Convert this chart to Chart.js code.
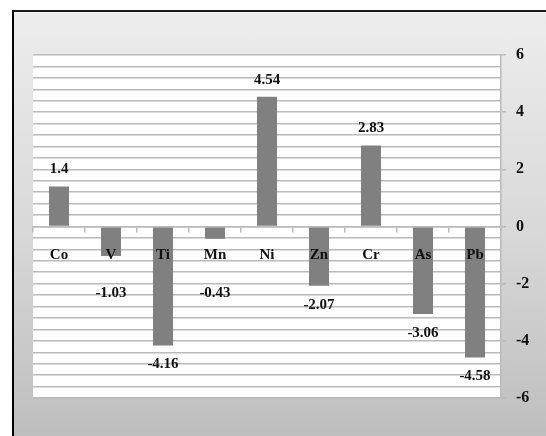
<!DOCTYPE html>
<html>
<head>
<meta charset="utf-8">
<script src="https://cdn.jsdelivr.net/npm/chart.js@4.4.1/dist/chart.umd.min.js"></script>
<style>
  html, body { margin: 0; padding: 0; background: #ffffff; }
  body { width: 546px; height: 436px; position: relative; overflow: hidden; }
  #frame {
    position: absolute; left: 12px; top: 10px;
    width: 534px; height: 424px;
    border-left: 2px solid #000; border-top: 2px solid #1a1a1a;
    background: linear-gradient(to bottom, #ededed 0%, #d9d9d9 50%, #bebebe 100%);
  }
  #chart { position: absolute; left: 0; top: 0; }
</style>
</head>
<body>
<div id="frame"></div>
<canvas id="chart" width="546" height="436"></canvas>
<script>
// Elements and their values
const categories = ['Co', 'V', 'Ti', 'Mn', 'Ni', 'Zn', 'Cr', 'As', 'Pb'];
const values = [1.4, -1.03, -4.16, -0.43, 4.54, -2.07, 2.83, -3.06, -4.58];
// Labelled values on the right-hand axis
const yTickLabels = [-6, -4, -2, 0, 2, 4, 6];

const serif = '"Liberation Serif", "DejaVu Serif", serif';
const labelFont = 'bold 15px ' + serif;
const gridGray = '#bababa';

function isMajor(v) {
  const r = Math.round(v * 10) / 10;
  return yTickLabels.includes(r);
}

// White plot area behind the grid
const plotBackground = {
  id: 'plotBackground',
  beforeDraw(chart) {
    const { ctx, chartArea: a } = chart;
    ctx.save();
    ctx.fillStyle = '#ffffff';
    ctx.fillRect(a.left, a.top, a.right - a.left, a.bottom - a.top);
    ctx.restore();
  }
};

// Value labels at the end of each bar
const valueLabels = {
  id: 'valueLabels',
  afterDraw(chart) {
    const { ctx } = chart;
    const meta = chart.getDatasetMeta(0);
    const zeroY = chart.scales.y.getPixelForValue(0);
    ctx.save();
    ctx.font = labelFont;
    ctx.fillStyle = '#111111';
    ctx.textAlign = 'center';
    ctx.textBaseline = 'middle';
    meta.data.forEach((bar, i) => {
      const v = values[i];
      let y;
      if (v >= 0) {
        y = bar.y - 17;
      } else {
        y = Math.max(bar.y + 19, zeroY + 67);
      }
      ctx.fillText(String(v), bar.x, y);
    });
    ctx.restore();
  }
};

new Chart(document.getElementById('chart'), {
  type: 'bar',
  data: {
    labels: categories,
    datasets: [{
      data: values,
      backgroundColor: '#808080',
      borderWidth: 0,
      barPercentage: 0.385,
      categoryPercentage: 1.0
    }]
  },
  options: {
    responsive: false,
    devicePixelRatio: 1,
    animation: false,
    layout: { padding: { left: 33, top: 55, right: 0, bottom: 38 } },
    plugins: {
      legend: { display: false },
      tooltip: { enabled: false }
    },
    scales: {
      x: {
        position: { y: 0 },
        offset: true,
        grid: {
          offset: true,
          drawOnChartArea: false,
          drawTicks: true,
          tickLength: 5,
          tickColor: gridGray,
          lineWidth: 1.5
        },
        border: { display: true, color: gridGray, width: 1.5, z: 1 },
        ticks: {
          z: 1,
          padding: 15,
          color: '#111111',
          font: { family: serif, size: 15, weight: 'bold' }
        }
      },
      y: {
        position: 'right',
        min: -6,
        max: 6,
        afterFit(scale) { scale.width = 45; },
        grid: {
          color: gridGray,
          lineWidth: 1.5,
          drawTicks: true,
          tickLength: 5,
          tickColor: (c) => (c.tick && isMajor(c.tick.value)) ? gridGray : 'rgba(0,0,0,0)'
        },
        border: { display: true, color: gridGray, width: 1.5 },
        ticks: {
          stepSize: 0.4,
          autoSkip: false,
          padding: 10,
          color: '#111111',
          font: { family: serif, size: 16, weight: 'bold' },
          callback: (v) => isMajor(v) ? String(Math.round(v)) : ''
        }
      }
    }
  },
  plugins: [plotBackground, valueLabels]
});
</script>
</body>
</html>
